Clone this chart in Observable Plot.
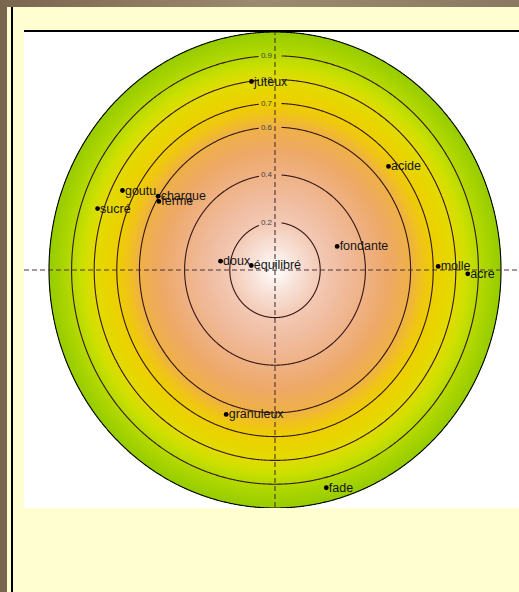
<!DOCTYPE html>
<html><head><meta charset="utf-8">
<script src="https://cdn.jsdelivr.net/npm/d3@7"></script>
<script src="https://cdn.jsdelivr.net/npm/@observablehq/plot@0.6"></script>
<style>
html,body{margin:0;padding:0;}
body{width:519px;height:592px;overflow:hidden;position:relative;background:linear-gradient(90deg,#7a664e,#9c8a70 50%,#8a7860);font-family:"Liberation Sans",Arial,sans-serif;}
#bg{position:absolute;left:7px;top:7px;right:0;bottom:0;background:#fffed0;}
#vline{position:absolute;left:11px;top:7px;width:2px;bottom:0;background:#000;}
#panel{position:absolute;left:24px;top:30px;width:495px;height:478px;background:#fff;overflow:hidden;}
#topline{position:absolute;left:24px;top:30px;width:495px;height:1.5px;background:#000;}
</style></head>
<body>
<div id="bg"></div><div id="vline"></div>
<div id="panel"></div><div id="topline"></div>
<script>
// contour levels and their labels
const levels = [0.2, 0.4, 0.6, 0.7, 0.8, 0.9, 1.0];
const levelLabels = ["0.2", "0.4", "0.6", "0.7", "0.8", "0.9"];
// radial colour stops
const colorStops = [0, 0.1, 0.2, 0.3, 0.4, 0.5, 0.6, 0.65, 0.7, 0.8, 0.85, 0.9, 1.0];
const colorRange = ["#ffffff", "#f8e2d8", "#f3c9b4", "#f0bc9f", "#efb285", "#eea968", "#efb046", "#f0c21c", "#edcf00", "#e2db00", "#cde000", "#b6da00", "#96cc00"];
// attributes
const names = ["juteux", "acide", "goutu", "sucré", "charque", "ferme", "fondante", "doux", "équilibré", "molle", "acre", "granuleux", "fade"];
const xs = [-0.104, 0.502, -0.675, -0.785, -0.517, -0.514, 0.275, -0.241, -0.105, 0.722, 0.853, -0.216, 0.227];
const ys = [0.792, 0.435, 0.334, 0.258, 0.310, 0.288, 0.099, 0.037, 0.019, 0.015, -0.016, -0.607, -0.915];

const pts = names.map((n, i) => ({name: n, x: xs[i], y: ys[i]}));
const labs = levelLabels.map((l, i) => ({label: l, y: levels[i]}));

// contour outlines (gap where the level label sits)
const ring = [];
for (const lv of levels) {
  for (let a = 0; a <= 1440; a++) {
    const t = a / 1440 * 2 * Math.PI;
    const x = lv * Math.cos(t), y = lv * Math.sin(t);
    const gap = lv < 1 && y > 0 && x > -0.072 && x < 0.03;
    ring.push({lv, x: gap ? NaN : x, y});
  }
}

const chart = Plot.plot({
  width: 495, height: 478,
  marginTop: 0, marginRight: 0, marginBottom: 0, marginLeft: 0,
  style: {background: "transparent"},
  x: {domain: [-1, 1], range: [24.5, 476.5], axis: null},
  y: {domain: [-1, 1], range: [477.5, 1.5], axis: null},
  color: {type: "linear", domain: colorStops, range: colorRange, clamp: true},
  marks: [
    Plot.raster({
      x1: -1, x2: 1, y1: -1, y2: 1,
      fill: (x, y) => Math.min(1, Math.hypot(x, y)),
      fillOpacity: (x, y) => (Math.hypot(x, y) <= 1.002 ? 1 : 0),
      imageRendering: "auto"
    }),
    Plot.line(ring, {x: "x", y: "y", z: "lv", stroke: d => d.lv === 1 ? "#000" : "#341818", strokeWidth: 1.1}),
    Plot.ruleY([0], {stroke: "#4e3434", strokeDasharray: "5,3", strokeWidth: 1.1}),
    Plot.ruleX([0], {stroke: "#4e3434", strokeDasharray: "5,3", strokeWidth: 1.1}),
    Plot.text(labs, {x: 0, y: "y", text: "label", textAnchor: "end", dx: -3, fontSize: 8, fill: "#444", fontFamily: "Liberation Sans, Arial, sans-serif"}),
    Plot.dot(pts, {x: "x", y: "y", r: 2.4, fill: "#000", stroke: "none"}),
    Plot.text(pts, {x: "x", y: "y", text: "name", textAnchor: "start", dx: 2.5, fontSize: 12.5, fill: "#151515", fontFamily: "Liberation Sans, Arial, sans-serif"})
  ]
});
document.getElementById("panel").appendChild(chart);
</script>
</body></html>
